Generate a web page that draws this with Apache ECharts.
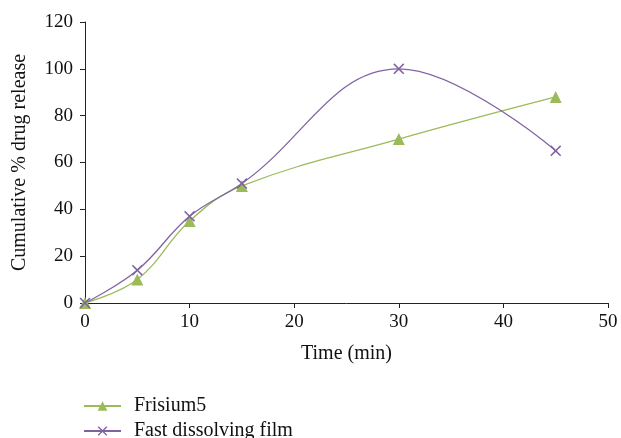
<!DOCTYPE html>
<html>
<head>
<meta charset="utf-8">
<script src="https://cdn.jsdelivr.net/npm/echarts@6/dist/echarts.min.js"></script>
<style>html,body{margin:0;padding:0;background:#fff}#c{width:621px;height:438px}</style>
</head>
<body>
<div id="c"></div>
<script>
var times = [0, 5, 10, 15, 30, 45];
var frisium5 = [0, 10, 35, 50, 70, 88];
var fastFilm = [0, 14, 37, 51, 100, 65];
var seriesNames = ['Frisium5', 'Fast dissolving film'];
var xTitle = 'Time (min)';
var yTitle = 'Cumulative % drug release';

function pairs(xs, ys) { return xs.map(function (x, i) { return [x, ys[i]]; }); }

var FONT = '"Liberation Serif", "DejaVu Serif", serif';
var GREEN = '#9BBB59';
var PURPLE = '#8064A2';
var crossPath = 'path://M0,1 L1,0 L5,4 L9,0 L10,1 L6,5 L10,9 L9,10 L5,6 L1,10 L0,9 L4,5 Z';

function legendBox(name, top) {
  return {
    orient: 'vertical', left: 83, top: top, padding: 0,
    itemWidth: 37, itemHeight: 12,
    textStyle: { fontFamily: FONT, fontSize: 20, color: '#111', padding: [0, 0, 0, 8] },
    data: [name]
  };
}

var chart = echarts.init(document.getElementById('c'), null, { renderer: 'canvas' });
chart.setOption({
  animation: false,
  backgroundColor: '#fff',
  grid: { left: 85, right: 13, top: 22, bottom: 135, containLabel: false, outerBoundsMode: 'none' },
  xAxis: {
    type: 'value', min: 0, max: 50, interval: 10,
    name: xTitle, nameLocation: 'middle', nameGap: 41,
    nameTextStyle: { fontFamily: FONT, fontSize: 20, color: '#111' },
    axisLine: { show: true, onZero: false, lineStyle: { color: '#222', width: 1 } },
    axisTick: { show: true, length: 5, lineStyle: { color: '#222' } },
    axisLabel: { fontFamily: FONT, fontSize: 19, color: '#111', margin: 10 },
    splitLine: { show: false }
  },
  yAxis: {
    type: 'value', min: 0, max: 120, interval: 20,
    name: yTitle, nameLocation: 'middle', nameGap: 55,
    nameTextStyle: { fontFamily: FONT, fontSize: 20, color: '#111' },
    axisLine: { show: true, lineStyle: { color: '#222', width: 1 } },
    axisTick: { show: true, length: 5, lineStyle: { color: '#222' } },
    axisLabel: { fontFamily: FONT, fontSize: 19, color: '#111', margin: 12 },
    splitLine: { show: false }
  },
  legend: [legendBox(seriesNames[0], 396), legendBox(seriesNames[1], 421)],
  series: [
    {
      name: seriesNames[0], type: 'line', smooth: 0.4,
      data: pairs(times, frisium5),
      symbol: 'triangle', symbolSize: 12,
      lineStyle: { color: GREEN, width: 1.3 },
      itemStyle: { color: GREEN }
    },
    {
      name: seriesNames[1], type: 'line', smooth: 0.4,
      data: pairs(times, fastFilm),
      symbol: crossPath, symbolSize: 11,
      lineStyle: { color: PURPLE, width: 1.3 },
      itemStyle: { color: PURPLE }
    }
  ]
});
</script>
</body>
</html>
